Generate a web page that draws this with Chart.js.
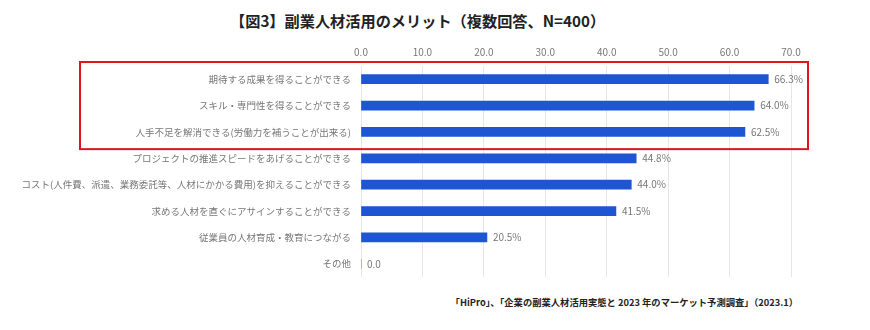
<!DOCTYPE html>
<html><head><meta charset="utf-8">
<script src="https://cdn.jsdelivr.net/npm/chart.js@4/dist/chart.umd.min.js"></script>
<style>
html,body{margin:0;padding:0;background:#fff;}
#wrap{position:relative;width:870px;height:330px;font-family:"Noto Sans CJK JP","Noto Sans",sans-serif;}
#title{position:absolute;left:230px;top:9px;font-size:15.2px;font-weight:bold;color:#222;white-space:nowrap;}
#src{position:absolute;right:72px;top:295px;font-size:9.3px;font-weight:bold;color:#222;white-space:nowrap;}
canvas{position:absolute;left:0;top:0;}
</style></head><body>
<div id="wrap">
<div id="title">【図3】副業人材活用のメリット（複数回答、N=400）</div>
<canvas id="c" width="870" height="290"></canvas>
<div id="src">「HiPro」、「企業の副業人材活用実態と 2023 年のマーケット予測調査」（2023.1）</div>
</div>
<script>
const categories = [
  "期待する成果を得ることができる",
  "スキル・専門性を得ることができる",
  "人手不足を解消できる(労働力を補うことが出来る)",
  "プロジェクトの推進スピードをあげることができる",
  "コスト(人件費、派遣、業務委託等、人材にかかる費用)を抑えることができる",
  "求める人材を直ぐにアサインすることができる",
  "従業員の人材育成・教育につながる",
  "その他"
];
const values = [66.3, 64.0, 62.5, 44.8, 44.0, 41.5, 20.5, 0.0];
const tickValues = [0, 10, 20, 30, 40, 50, 60, 70];
const highlightCount = 3;

const valueLabels = {
  id: 'valueLabels',
  afterDatasetsDraw(chart) {
    const ctx = chart.ctx;
    const meta = chart.getDatasetMeta(0);
    ctx.save();
    ctx.font = '10px "Noto Sans CJK JP", sans-serif';
    ctx.fillStyle = '#777';
    ctx.textBaseline = 'middle';
    ctx.textAlign = 'left';
    meta.data.forEach((bar, i) => {
      const v = values[i];
      const txt = v === 0 ? v.toFixed(1) : v.toFixed(1) + '%';
      ctx.fillText(txt, bar.x + 6, bar.y);
    });
    ctx.restore();
  }
};

const highlightBox = {
  id: 'highlightBox',
  afterDraw(chart) {
    const y = chart.scales.y;
    const area = chart.chartArea;
    const step = (y.getPixelForValue(1) - y.getPixelForValue(0));
    const top = y.getPixelForValue(0) - step / 2 - 4;
    const bottom = y.getPixelForValue(highlightCount - 1) + step / 2 + 4;
    const ctx = chart.ctx;
    ctx.save();
    ctx.strokeStyle = '#e3141b';
    ctx.lineWidth = 2;
    ctx.strokeRect(area.left - 281, top, (area.right + 17) - (area.left - 281), bottom - top);
    ctx.restore();
  }
};

new Chart(document.getElementById('c'), {
  type: 'bar',
  data: {
    labels: categories,
    datasets: [{
      data: values,
      backgroundColor: '#1d55d2',
      barThickness: 9
    }]
  },
  options: {
    indexAxis: 'y',
    responsive: false,
    animation: false,
    layout: { padding: { left: 0, right: 79, top: 0, bottom: 13 } },
    plugins: { legend: { display: false }, tooltip: { enabled: false } },
    scales: {
      x: {
        position: 'top',
        min: 0, max: 70,
        afterBuildTicks(scale) { scale.ticks = tickValues.map(v => ({ value: v })); },
        afterFit(scale) { scale.height = 66; },
        ticks: {
          callback: v => Number(v).toFixed(1),
          color: '#777',
          font: { size: 10, family: '"Noto Sans CJK JP", sans-serif' },
          padding: 8
        },
        grid: { color: '#e6e6e6', drawTicks: false },
        border: { display: false }
      },
      y: {
        afterFit(scale) { scale.width = 361; },
        ticks: {
          color: '#777',
          font: { size: 9.5, family: '"Noto Sans CJK JP", sans-serif' },
          padding: 2
        },
        grid: { display: false },
        border: { display: false }
      }
    }
  },
  plugins: [valueLabels, highlightBox]
});
</script>
</body></html>
